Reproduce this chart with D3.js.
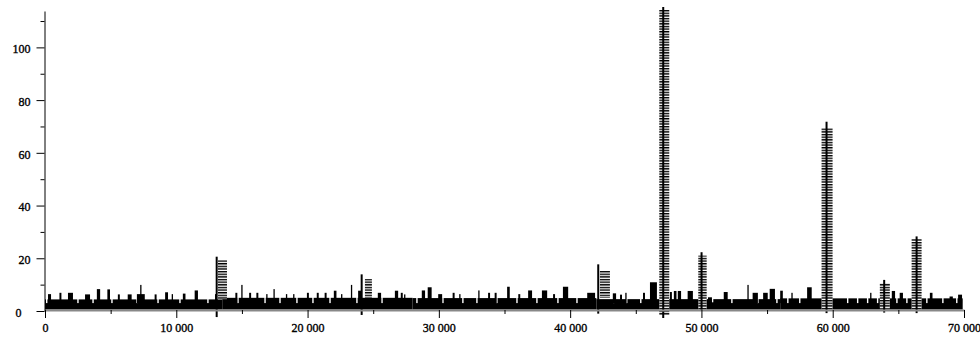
<!DOCTYPE html>
<html>
<head>
<meta charset="utf-8">
<script src="https://cdn.jsdelivr.net/npm/d3@7"></script>
<style>
  html, body { margin: 0; padding: 0; background: #fff; }
  svg { display: block; }
  .axis text { font-family: "Liberation Serif", "Times New Roman", serif; font-size: 12px; fill: #000; stroke: #000; stroke-width: 0.35px; }
</style>
</head>
<body>
<div id="chart"></div>
<script>
const width = 980
const height = 339

// axis ticks
const xTicks = [0, 10000, 20000, 30000, 40000, 50000, 60000, 70000]
const xMinorTicks = [5000, 15000, 25000, 35000, 45000, 55000, 65000]
const yTicks = [0, 20, 40, 60, 80, 100]
const yMinorTicks = [10, 30, 50, 70, 90, 110]

// dense band of small values: [from, to, top]
const bandSegments = [
  [0, 13500, 4.4], [13500, 28000, 5.0], [28000, 42000, 4.9],
  [42000, 56000, 4.5], [56000, 69900, 4.8]
]
const bandBottom = 0.57

// small raised groups above the band: [from, to, top]
const bumps = [
  [230, 460, 6.4], [1100, 1250, 6.9], [1750, 2130, 6.9], [3050, 3430, 6.3],
  [3950, 4200, 8.3], [4750, 4950, 8.2], [5550, 5700, 6.3], [6300, 6600, 6.3],
  [7000, 7600, 6.4], [8350, 8500, 6.3], [9150, 9370, 7.1], [9650, 9750, 6.4],
  [10500, 10700, 6.6], [11400, 11650, 7.8], [12950, 13100, 6.4],
  [14500, 14650, 6.9], [15550, 15700, 6.9], [16100, 16250, 6.9], [16850, 16950, 6.4],
  [18350, 18450, 6.4], [18900, 19000, 6.4], [19950, 20100, 6.9], [20700, 20850, 6.9],
  [21300, 21450, 6.9], [22000, 22200, 7.7], [22550, 22650, 6.4], [23850, 24150, 7.7],
  [25350, 25600, 6.9], [26650, 26900, 7.7], [27100, 27250, 6.9], [27350, 27450, 6.3],
  [28700, 28950, 7.8], [29150, 29450, 9.0], [29950, 30250, 6.4], [31050, 31200, 6.9],
  [31550, 31650, 6.4], [33000, 33100, 7.8], [33750, 33900, 6.9], [34250, 34400, 6.9],
  [35200, 35400, 9.2], [36050, 36200, 6.4], [36800, 37100, 7.8], [37850, 38250, 7.8],
  [38700, 38850, 6.4], [39450, 39850, 9.2], [41300, 41900, 6.9],
  [43250, 43500, 6.7], [43800, 43950, 6.2], [44200, 44300, 6.9], [45550, 45700, 6.9],
  [46080, 46610, 10.9], [47600, 47750, 7.2], [47900, 48100, 7.6], [48200, 48450, 7.6],
  [48950, 49350, 7.6], [50500, 50800, 5.2], [51700, 52000, 7.2], [53900, 54300, 6.9],
  [54700, 55050, 6.9], [55200, 55600, 8.4],
  [56000, 56200, 7.7], [56850, 56950, 6.9], [58050, 58400, 9.0], [62850, 62950, 6.9],
  [64500, 64750, 7.6], [65100, 65350, 6.9], [67400, 67600, 6.9], [68900, 69150, 5.5],
  [69550, 69850, 6.2]
]

// single tall thin values: [x, top]
const spikes = [
  [7300, 9.9], [15000, 9.9], [17450, 8.3], [23350, 9.9], [53550, 9.9]
]

// notches below the band top: [x, level]
const dips = [
  [130, 3], [2510, 3], [3660, 3], [5100, 3], [7010, 3], [8610, 3], [10280, 3], [12410, 3],
  [14700, 3], [16760, 3], [17900, 3], [19190, 3], [20410, 3], [21710, 3], [23760, 3], [25670, 3],
  [28330, 3], [30310, 3], [31830, 3], [32900, 3], [34420, 3], [35950, 3], [37470, 3], [39070, 3],
  [40520, 3], [43320, 3], [44310, 3], [45380, 3], [50650, 3.3], [50850, 3.3], [52320, 3],
  [54300, 3], [55750, 3], [56580, 3], [57490, 3], [61140, 3], [61900, 3], [62660, 3],
  [63420, 3], [64890, 3], [65650, 3], [67170, 3], [68390, 3], [69450, 3]
]

// hatched peaks
const peaks = [
  { x: 13077, top: 20.6, low: -2.3, from: 13176, to: 13861, hatchTop: 19.3, hatchLow: 4.5 },
  { x: 24120, top: 13.9, low: -1.5, from: 24370, to: 24900, hatchTop: 12.1, hatchLow: 5 },
  { x: 42140, top: 17.7, low: -1.0, from: 42270, to: 43030, hatchTop: 15.2, hatchLow: 5 },
  { x: 47090, top: 115.3, low: -2.7, from: 46790, to: 47550, hatchTop: 114.2, hatchLow: -1.5 },
  { x: 50010, top: 22.3, low: 0, from: 49760, to: 50400, hatchTop: 21.0, hatchLow: 0.5 },
  { x: 59530, top: 71.8, low: -0.8, from: 59150, to: 59990, hatchTop: 69.4, hatchLow: 0 },
  { x: 63920, top: 11.8, low: -0.6, from: 63590, to: 64350, hatchTop: 10.5, hatchLow: 1 },
  { x: 66390, top: 28.3, low: -0.8, from: 66010, to: 66770, hatchTop: 27.3, hatchLow: 0 }
]

const svg = d3.select('#chart')
  .append('svg')
  .attr('width', width)
  .attr('height', height)

const x = d3.scaleLinear().domain([0, 70000]).range([45, 964])
const y = d3.scaleLinear().domain([0, 113.8]).range([311, 11])

// hatch pattern, one line per unit of y
const unit = y(0) - y(1)
const pattern = svg.append('defs')
  .append('pattern')
  .attr('id', 'hatch')
  .attr('patternUnits', 'userSpaceOnUse')
  .attr('width', 20)
  .attr('height', unit)
  .attr('y', y(0) - 0.5)
pattern.append('rect')
  .attr('width', 20)
  .attr('height', 1.4)
  .attr('fill', '#000')

const marks = svg.append('g')

marks.selectAll('rect.band')
  .data(bandSegments)
  .join('rect')
  .attr('class', 'band')
  .attr('x', (d) => x(d[0]))
  .attr('width', (d) => x(d[1]) - x(d[0]))
  .attr('y', (d) => y(d[2]))
  .attr('height', (d) => y(bandBottom) - y(d[2]))
  .attr('fill', '#000')

marks.selectAll('rect.dip')
  .data(dips)
  .join('rect')
  .attr('class', 'dip')
  .attr('x', (d) => x(d[0]) - 0.7)
  .attr('width', 1.4)
  .attr('y', y(6))
  .attr('height', (d) => y(d[1]) - y(6))
  .attr('fill', '#fff')

marks.selectAll('rect.bump')
  .data(bumps)
  .join('rect')
  .attr('class', 'bump')
  .attr('x', (d) => x(d[0]))
  .attr('width', (d) => Math.max(1.3, x(d[1]) - x(d[0])))
  .attr('y', (d) => y(d[2]))
  .attr('height', (d) => y(3) - y(d[2]))
  .attr('fill', '#000')

marks.selectAll('rect.spike')
  .data(spikes)
  .join('rect')
  .attr('class', 'spike')
  .attr('x', (d) => x(d[0]) - 0.65)
  .attr('width', 1.3)
  .attr('y', (d) => y(d[1]))
  .attr('height', (d) => y(3) - y(d[1]))
  .attr('fill', '#000')

const peakG = marks.selectAll('g.peak')
  .data(peaks)
  .join('g')
  .attr('class', 'peak')

peakG.append('rect')
  .attr('x', (d) => x(d.from))
  .attr('width', (d) => x(d.to) - x(d.from))
  .attr('y', (d) => y(d.hatchTop))
  .attr('height', (d) => y(d.hatchLow) - y(d.hatchTop))
  .attr('fill', '#fff')

peakG.append('rect')
  .attr('x', (d) => x(d.from))
  .attr('width', (d) => x(d.to) - x(d.from))
  .attr('y', (d) => y(d.hatchTop))
  .attr('height', (d) => y(d.hatchLow) - y(d.hatchTop))
  .attr('fill', 'url(#hatch)')

peakG.append('line')
  .attr('x1', (d) => x(d.x))
  .attr('x2', (d) => x(d.x))
  .attr('y1', (d) => y(d.top))
  .attr('y2', (d) => y(d.low))
  .attr('stroke', '#000')
  .attr('stroke-width', 2)

// axes
const fmt = d3.formatLocale({ decimal: '.', thousands: ' ', grouping: [3], currency: ['', ''] }).format(',')

const xAxis = svg.append('g')
  .attr('class', 'axis')
  .attr('transform', 'translate(0,310)')
  .call(d3.axisBottom(x).tickValues(xTicks).tickSize(8).tickSizeOuter(0).tickFormat(fmt))
xAxis.select('.domain').attr('stroke', '#888').attr('stroke-width', 2)
xAxis.selectAll('text').attr('y', 13)

svg.append('g')
  .attr('transform', 'translate(0,310)')
  .call(d3.axisBottom(x).tickValues(xMinorTicks).tickSize(4).tickFormat(''))
  .call((g) => g.select('.domain').remove())

const yAxis = svg.append('g')
  .attr('class', 'axis')
  .attr('transform', 'translate(44.5,0)')
  .call(d3.axisLeft(y).tickValues(yTicks).tickSize(8).tickSizeOuter(0).tickPadding(6))
yAxis.selectAll('text').attr('dy', '0.45em')
yAxis.selectAll('.tick')
  .filter((d) => d === 0)
  .select('text')
  .attr('text-anchor', 'start')
  .attr('x', -29)

svg.append('g')
  .attr('transform', 'translate(44.5,0)')
  .call(d3.axisLeft(y).tickValues(yMinorTicks).tickSize(4).tickFormat(''))
  .call((g) => g.select('.domain').remove())
</script>
</body>
</html>
